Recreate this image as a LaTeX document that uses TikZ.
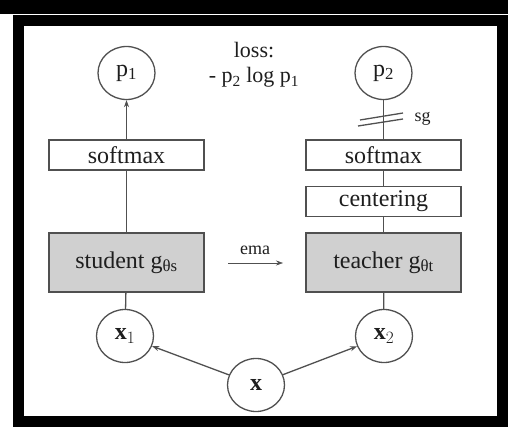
\documentclass[tikz,border=0pt]{standalone}
\usepackage{fontspec}
\setmainfont{Liberation Serif}
\usetikzlibrary{arrows.meta,shapes.geometric}
\definecolor{boxgray}{HTML}{D0D0D0}
\definecolor{linegray}{HTML}{505050}
\definecolor{inkgray}{HTML}{1E1E1E}

\begin{document}
\begin{tikzpicture}[x=1pt, y=-1pt,
    every node/.style={font=\fontsize{24}{28}\selectfont, text=inkgray},
    var/.style={ellipse, draw=linegray, line width=1.3pt, minimum width=57pt, minimum height=53pt, inner sep=0pt},
    op/.style={draw=linegray, line width=1.3pt, minimum width=155pt, minimum height=30pt, inner sep=0pt},
    net/.style={op, fill=boxgray, minimum height=59pt},
    link/.style={draw=linegray, line width=1.3pt},
    arr/.style={link, -{Stealth[length=7pt, width=5pt]}}]
  \useasboundingbox (0,0) rectangle (508,427);
  % frame
  \fill (0,0) rectangle (508,14);
  \draw[line width=11pt] (18.5,20.5) rectangle (502.5,421.5);
  % outputs and loss
  \node[var] (p1) at (126.5,73) {p\textsubscript{1}};
  \node[var] (p2) at (383.5,73) {p\textsubscript{2}};
  \node[font=\fontsize{22}{26}\selectfont, anchor=base] (loss) at (254,58) {loss:};
  \node[font=\fontsize{22}{26}\selectfont, anchor=base] (lossf) at (254,83) {- p\textsubscript{2} log p\textsubscript{1}};
  % heads
  \node[op] (smS) at (126.5,155) {softmax};
  \node[op] (smT) at (383.5,155) {softmax};
  \node[op] (cent) at (383.5,201.5) {centering};
  % networks
  \node[net] (stu) at (126.5,262.5) {student g\textsubscript{θs}};
  \node[net] (tea) at (383.5,262.5) {teacher g\textsubscript{θt}};
  \node[font=\fontsize{18}{22}\selectfont, anchor=base] (ema) at (255,255) {ema};
  \coordinate (emaL) at (228,263);
  \coordinate (emaR) at (283,263);
  % views
  \node[var] (x1) at (125,336) {$\mathbf{x}_1$};
  \node[var] (x2) at (384,336) {$\mathbf{x}_2$};
  \node[var] (x) at (256,385) {$\mathbf{x}$};
  % connectors
  \draw[arr] (smS) -- (p1);
  \draw[link] (stu) -- (smS);
  \draw[link] (x1) -- (stu);
  \draw[link] (x2) -- (tea);
  \draw[link] (tea) -- (cent);
  \draw[link] (cent) -- (smT);
  \draw[link] (smT) -- (p2);
  \draw[arr] (x) -- (x1);
  \draw[arr] (x) -- (x2);
  \draw[arr, line width=0.6pt] (emaL) -- (emaR);
  % stop gradient
  \coordinate (sgA) at (360,120);
  \coordinate (sgB) at (403,113);
  \coordinate (sgC) at (358,126);
  \coordinate (sgD) at (403,119);
  \draw[link] (sgA) -- (sgB);
  \draw[link] (sgC) -- (sgD);
  \node[font=\fontsize{18}{22}\selectfont, anchor=base west] (sg) at (411,122) {sg};
\end{tikzpicture}
\end{document}
